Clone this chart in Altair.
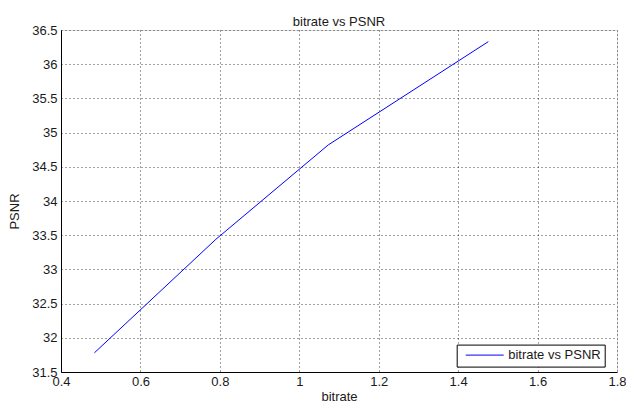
import altair as alt
import pandas as pd

bitrate = [0.484, 0.79, 1.073, 1.476]
psnr = [31.78, 33.44, 34.82, 36.33]
series = ["bitrate vs PSNR"] * len(bitrate)
x_ticks = [0.4, 0.6, 0.8, 1.0, 1.2, 1.4, 1.6, 1.8]
y_ticks = [31.5, 32, 32.5, 33, 33.5, 34, 34.5, 35, 35.5, 36, 36.5]

df = pd.DataFrame({"bitrate": bitrate, "PSNR": psnr, "series": series})

FONT = "Liberation Sans"
TXT = "#1a1a1a"

common_axis = dict(
    grid=True, gridColor="#000000", gridDash=[1, 3], gridOpacity=0.75, gridWidth=1,
    tickSize=0, domainColor="#000000", domainWidth=1,
    labelFont=FONT, labelFontSize=13, labelColor=TXT,
    titleFont=FONT, titleFontSize=13, titleFontWeight="normal", titleColor=TXT,
    labelOverlap=False, labelBound=False, labelFlush=False,
    format="~g",
)

chart = alt.Chart(df).mark_line(color="#0000ff", strokeWidth=1).encode(
    x=alt.X("bitrate:Q",
            scale=alt.Scale(domain=[0.4, 1.8], nice=False, zero=False),
            axis=alt.Axis(values=x_ticks, title="bitrate", labelPadding=3,
                          titlePadding=2, **common_axis)),
    y=alt.Y("PSNR:Q",
            scale=alt.Scale(domain=[31.5, 36.5], nice=False, zero=False),
            axis=alt.Axis(values=y_ticks, title="PSNR", labelPadding=4,
                          titleX=-40, titleY=181, **common_axis)),
    color=alt.Color("series:N",
                    scale=alt.Scale(range=["#0000ff"]),
                    legend=alt.Legend(title=None, orient="none",
                                      legendX=395.7, legendY=314.6,
                                      symbolType="M-4,0H4", symbolSize=90,
                                      symbolStrokeWidth=1, symbolOffset=17.5,
                                      labelOffset=17, padding=4,
                                      labelFont=FONT, labelFontSize=13,
                                      labelColor=TXT,
                                      labelExpr="datum.label + '\u00a0'",
                                      strokeColor="#000000", fillColor="#ffffff")),
).properties(
    width=556, height=342,
    autosize="none",
    padding={"left": 53, "top": 22, "right": 9, "bottom": 31},
    title=alt.TitleParams("bitrate vs PSNR", font=FONT, fontSize=13,
                          fontWeight="normal", color=TXT, offset=-5),
).configure_view(stroke="#000000", strokeWidth=1).configure(background="#ffffff")

chart.save("out.html", embed_options={"renderer": "svg", "actions": False})
